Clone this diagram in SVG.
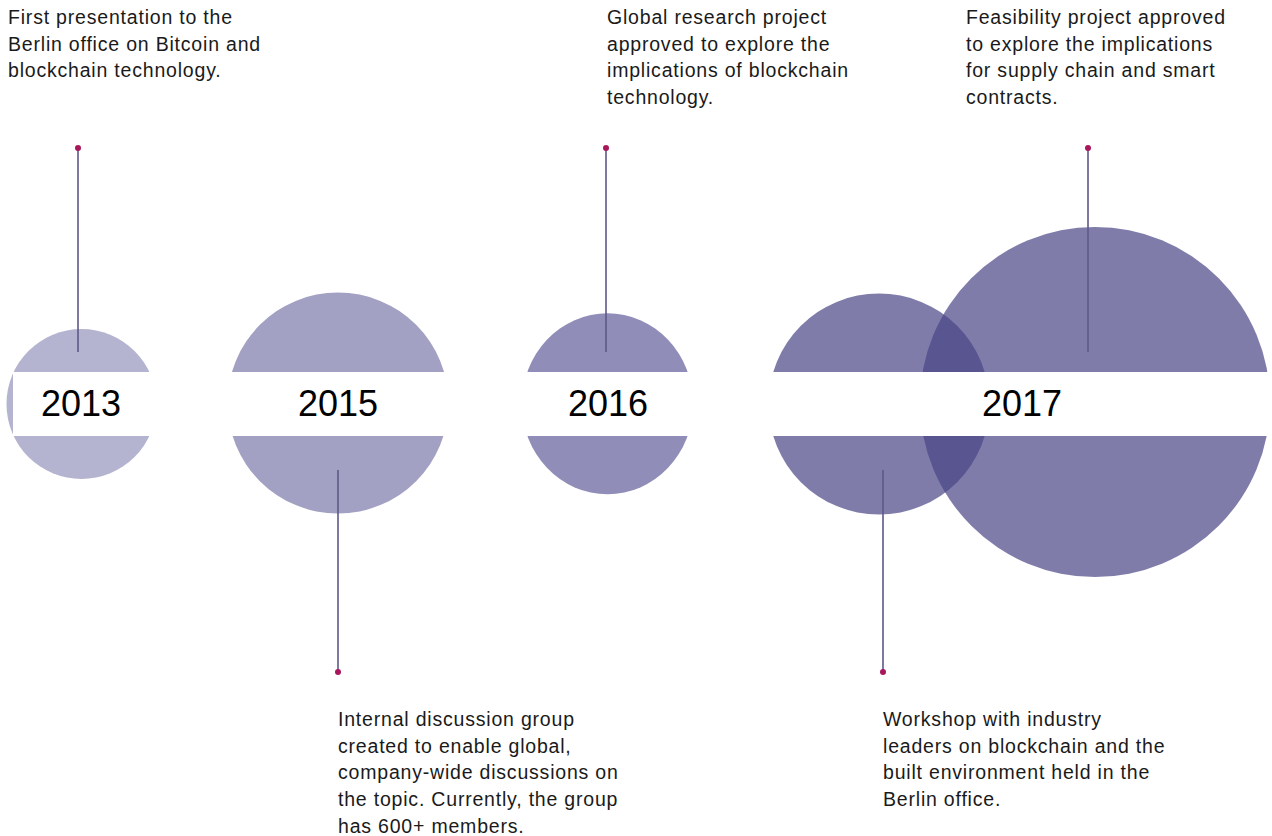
<svg xmlns="http://www.w3.org/2000/svg" width="1272" height="836" viewBox="0 0 1272 836">
<style>
.t{font-family:"Liberation Sans",Arial,sans-serif;font-size:19.5px;fill:#1a1a1a;letter-spacing:0.8px}
.y{font-family:"Liberation Sans",Arial,sans-serif;font-size:36px;fill:#000;text-anchor:middle}
.ln{stroke:#5d5887;stroke-width:1.6;fill:none}
.dot{fill:#a8175b}
.c17{fill:#484486;opacity:0.7}
</style>
<rect width="1272" height="836" fill="#fff"/>
<g id="circles">
<circle id="c2013" cx="81.5" cy="404" r="75" fill="#b4b3d0"/>
<circle id="c2015" cx="338" cy="403" r="110.5" fill="#a3a1c3"/>
<ellipse id="c2016" cx="607.5" cy="403.8" rx="85.7" ry="90.5" fill="#908db9"/>
<circle id="c2017a" class="c17" cx="879" cy="404" r="110.5"/>
<circle id="c2017b" class="c17" cx="1095" cy="402" r="175"/>
</g>
<rect id="band" x="13" y="372" width="1259" height="64" fill="#fff"/>
<g id="connectors">
<line class="ln" x1="78" y1="148" x2="78" y2="352"/>
<circle class="dot" cx="78" cy="148" r="3"/>
<line class="ln" x1="338" y1="470" x2="338" y2="672"/>
<circle class="dot" cx="338" cy="672" r="3"/>
<line class="ln" x1="606" y1="148" x2="606" y2="352"/>
<circle class="dot" cx="606" cy="148" r="3"/>
<line class="ln" x1="883" y1="470" x2="883" y2="672"/>
<circle class="dot" cx="883" cy="672" r="3"/>
<line class="ln" x1="1088" y1="148" x2="1088" y2="352"/>
<circle class="dot" cx="1088" cy="148" r="3"/>
</g>
<g id="y2013"><text class="y" x="81" y="416">2013</text></g>
<g id="y2015"><text class="y" x="338" y="416">2015</text></g>
<g id="y2016"><text class="y" x="608" y="416">2016</text></g>
<g id="y2017"><text class="y" x="1022" y="416">2017</text></g>
<g id="n2013"><text class="t" x="8" y="24"><tspan x="8">First presentation to the</tspan><tspan x="8" dy="26.7">Berlin office on Bitcoin and</tspan><tspan x="8" dy="26.7">blockchain technology.</tspan></text></g>
<g id="n2016"><text class="t" x="607" y="24"><tspan x="607">Global research project</tspan><tspan x="607" dy="26.7">approved to explore the</tspan><tspan x="607" dy="26.7">implications of blockchain</tspan><tspan x="607" dy="26.7">technology.</tspan></text></g>
<g id="n2017b"><text class="t" x="966" y="24"><tspan x="966">Feasibility project approved</tspan><tspan x="966" dy="26.7">to explore the implications</tspan><tspan x="966" dy="26.7">for supply chain and smart</tspan><tspan x="966" dy="26.7">contracts.</tspan></text></g>
<g id="n2015"><text class="t" x="338" y="726"><tspan x="338">Internal discussion group</tspan><tspan x="338" dy="26.7">created to enable global,</tspan><tspan x="338" dy="26.7">company-wide discussions on</tspan><tspan x="338" dy="26.7">the topic. Currently, the group</tspan><tspan x="338" dy="26.7">has 600+ members.</tspan></text></g>
<g id="n2017a"><text class="t" x="883" y="726"><tspan x="883">Workshop with industry</tspan><tspan x="883" dy="26.7">leaders on blockchain and the</tspan><tspan x="883" dy="26.7">built environment held in the</tspan><tspan x="883" dy="26.7">Berlin office.</tspan></text></g>
</svg>
